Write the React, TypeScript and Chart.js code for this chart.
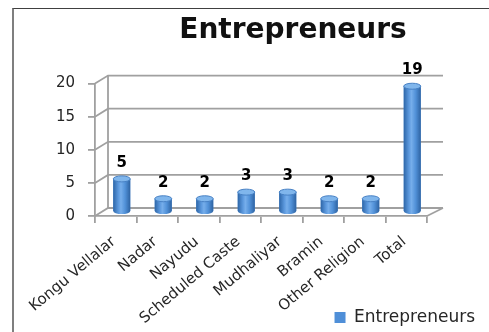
import React, { useEffect, useRef } from 'react';
import { Chart, registerables } from 'chart.js';

Chart.register(...registerables);

// ---- data ----
const categories = [
  'Kongu Vellalar',
  'Nadar',
  'Nayudu',
  'Scheduled Caste',
  'Mudhaliyar',
  'Bramin',
  'Other Religion',
  'Total',
];
const entrepreneurs = [5, 2, 2, 3, 3, 2, 2, 19];
const seriesLabel = 'Entrepreneurs';
const chartTitle = 'Entrepreneurs';
const yMin = 0;
const yMax = 20;
const yStep = 5;

// ---- layout / style ----
const W = 465;
const H = 327;
const TITLE_CX = 279;
const WALL_L = { dx: 13, dy: -8 };
const WALL_R = { dx: 16, dy: -8 };
const BAR_SHIFT = { dx: 6, dy: -4 };
const GRID = '#a0a0a0';
const FONT = 'DejaVu Sans';
const TEXT = '#262626';

const depthPlugin = {
  id: 'depth3d',
  afterLayout(chart: any) {
    const t = chart.titleBlock;
    if (t) {
      const w = t.right - t.left;
      t.left = TITLE_CX - w / 2;
      t.right = TITLE_CX + w / 2;
    }
    // let the rotated category labels run below the axis box (as in the original)
    const xs = chart.scales.x;
    if (xs) xs._computeLabelArea = () => undefined;
  },
  beforeDatasetsDraw(chart: any) {
    const { ctx, chartArea } = chart;
    const { left, right } = chartArea;
    const y = chart.scales.y;
    const y0 = y.getPixelForValue(yMin);
    const yT = y.getPixelForValue(yMax);
    ctx.save();
    ctx.strokeStyle = GRID;
    ctx.lineWidth = 1.8;
    y.ticks.forEach((t: any) => {
      const py = y.getPixelForValue(t.value);
      ctx.beginPath();
      ctx.moveTo(left, py);
      ctx.lineTo(left + WALL_L.dx, py + WALL_L.dy);
      ctx.lineTo(right + WALL_R.dx, py + WALL_R.dy);
      ctx.stroke();
    });
    // back wall vertical edge
    ctx.beginPath();
    ctx.moveTo(left + WALL_L.dx, yT + WALL_L.dy);
    ctx.lineTo(left + WALL_L.dx, y0 + WALL_L.dy);
    ctx.stroke();
    // floor right edge
    ctx.beginPath();
    ctx.moveTo(right, y0);
    ctx.lineTo(right + WALL_R.dx, y0 + WALL_R.dy);
    ctx.stroke();
    ctx.restore();

    ctx.save();
    ctx.translate(BAR_SHIFT.dx, BAR_SHIFT.dy);
  },
  afterDatasetsDraw(chart: any) {
    const { ctx } = chart;
    const meta = chart.getDatasetMeta(0);
    const values = chart.data.datasets[0].data;
    meta.data.forEach((bar: any, i: number) => {
      const { x, y, base, width } = bar.getProps(['x', 'y', 'base', 'width'], true);
      const rx = width / 2;
      const ry = 3;
      const g = ctx.createLinearGradient(x - rx, 0, x + rx, 0);
      g.addColorStop(0, '#2d66a8');
      g.addColorStop(0.3, '#5b98dd');
      g.addColorStop(0.45, '#76aeeb');
      g.addColorStop(0.7, '#5191d8');
      g.addColorStop(1, '#2e63a2');
      ctx.fillStyle = g;
      ctx.beginPath();
      ctx.moveTo(x - rx, y);
      ctx.lineTo(x - rx, base);
      ctx.ellipse(x, base, rx, ry, 0, Math.PI, 0, true);
      ctx.lineTo(x + rx, y);
      ctx.closePath();
      ctx.fill();
      // top cap
      ctx.beginPath();
      ctx.ellipse(x, y, rx, ry, 0, 0, Math.PI * 2);
      ctx.fillStyle = '#80b6ec';
      ctx.fill();
      ctx.strokeStyle = '#4680c4';
      ctx.lineWidth = 1;
      ctx.stroke();
      // value label
      ctx.fillStyle = '#000';
      ctx.font = `bold 15px "${FONT}"`;
      ctx.textAlign = 'center';
      ctx.textBaseline = 'middle';
      ctx.fillText(String(values[i]), x, y - 16);
    });
    ctx.restore();
  },
};

export default function App() {
  const ref = useRef<HTMLCanvasElement>(null);
  useEffect(() => {
    document.body.style.overflow = 'hidden';
    const chart = new Chart(ref.current as HTMLCanvasElement, {
      type: 'bar',
      data: {
        labels: categories,
        datasets: [
          {
            label: seriesLabel,
            data: entrepreneurs,
            backgroundColor: '#4f8fd8',
            borderWidth: 0,
            barPercentage: 0.41,
            categoryPercentage: 1,
          },
        ],
      },
      options: {
        responsive: false,
        animation: false,
        devicePixelRatio: 1,
        layout: { padding: 0 },
        scales: {
          x: {
            ticks: {
              font: { family: FONT, size: 15 },
              color: TEXT,
              maxRotation: 40,
              minRotation: 40,
              autoSkip: false,
              padding: 10,
              labelOffset: -2,
            },
            grid: {
              drawOnChartArea: false,
              tickLength: 7,
              color: GRID,
              lineWidth: 1.8,
              offset: true,
            },
            border: { color: GRID, width: 1.8 },
            afterFit: (s: any) => {
              s.height = 89;
            },
          },
          y: {
            min: yMin,
            max: yMax,
            ticks: {
              stepSize: yStep,
              font: { family: FONT, size: 15 },
              color: TEXT,
              padding: 13,
            },
            grid: {
              drawOnChartArea: false,
              tickLength: 7,
              color: GRID,
              lineWidth: 1.8,
            },
            border: { color: GRID, width: 1.8 },
            afterFit: (s: any) => {
              s.width = 81;
            },
          },
          y2: {
            type: 'linear',
            position: 'right',
            display: true,
            grid: { display: false },
            ticks: { display: false },
            border: { display: false },
            afterFit: (s: any) => {
              s.width = 52;
            },
          },
        },
        plugins: {
          title: {
            display: true,
            text: chartTitle,
            font: { family: FONT, size: 28, weight: 'bold' },
            color: '#111',
            padding: { top: 5, bottom: 36 },
          },
          legend: {
            position: 'bottom',
            align: 'end',
            labels: {
              boxWidth: 11,
              boxHeight: 11,
              padding: 4,
              font: { family: FONT, size: 17 },
              color: TEXT,
            },
          },
          tooltip: { enabled: false },
        },
      },
      plugins: [depthPlugin],
    } as any);
    return () => chart.destroy();
  }, []);
  return (
    <div
      style={{
        position: 'absolute',
        left: 12,
        top: 8,
        width: 475,
        height: 323,
        borderLeft: '2px solid #7f7f7f',
        borderTop: '1px solid #404040',
        overflow: 'hidden',
        background: '#fff',
      }}
    >
      <canvas ref={ref} width={W} height={H} style={{ display: 'block', width: W, height: H }} />
    </div>
  );
}
